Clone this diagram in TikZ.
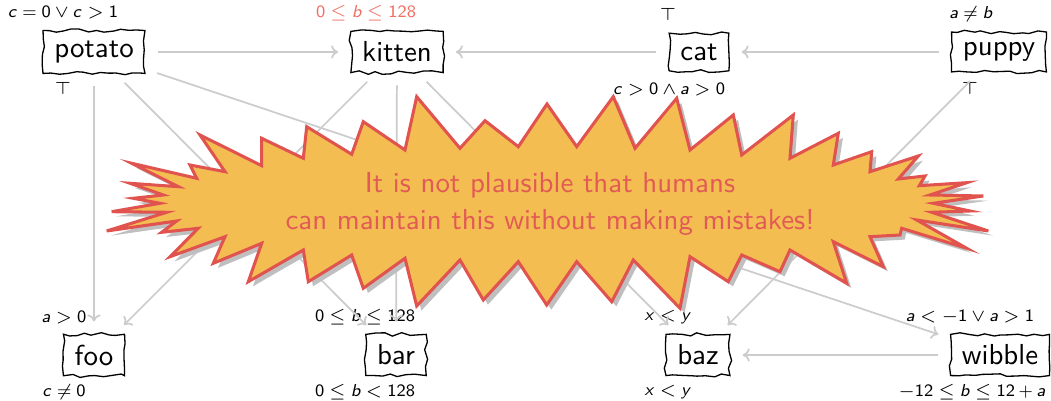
\documentclass[tikz,border=0pt]{standalone}
\usetikzlibrary{decorations.pathmorphing,arrows.meta}
\DeclareSymbolFont{sfit}{OT1}{cmss}{m}{sl}
\DeclareSymbolFont{sfup}{OT1}{cmss}{m}{n}
\DeclareMathSymbol{a}{\mathalpha}{sfit}{`a}
\DeclareMathSymbol{b}{\mathalpha}{sfit}{`b}
\DeclareMathSymbol{c}{\mathalpha}{sfit}{`c}
\DeclareMathSymbol{x}{\mathalpha}{sfit}{`x}
\DeclareMathSymbol{y}{\mathalpha}{sfit}{`y}
\DeclareMathSymbol{0}{\mathalpha}{sfup}{`0}
\DeclareMathSymbol{1}{\mathalpha}{sfup}{`1}
\DeclareMathSymbol{2}{\mathalpha}{sfup}{`2}
\DeclareMathSymbol{8}{\mathalpha}{sfup}{`8}
\DeclareMathSymbol{=}{\mathrel}{sfup}{`=}
\DeclareMathSymbol{+}{\mathbin}{sfup}{`+}
\definecolor{edgegray}{HTML}{CCCCCC}
\definecolor{burstfill}{HTML}{F3BD52}
\definecolor{burstline}{HTML}{E0534F}
\definecolor{bursttext}{HTML}{E25A55}
\definecolor{redlabel}{HTML}{F07066}
\begin{document}
\begin{tikzpicture}[x=0.346pt,y=-0.346pt,
  box/.style={draw=black, line width=0.45pt, fill=white,
    font=\fontsize{10}{12}\selectfont\sffamily, inner xsep=3.9pt, inner ysep=3.6pt,
    decorate, decoration={random steps, segment length=2.8pt, amplitude=0.6pt}},
  lbl/.style={font=\fontsize{6.2}{7.5}\selectfont, inner sep=0pt,
    execute at begin node={\thickmuskip=4mu\relax\medmuskip=3mu\relax}},
  edge/.style={draw=edgegray, line width=0.6pt, shorten <=4.2pt, shorten >=4.2pt,
    -{To[length=2.4pt,width=4.6pt]}}]
\pgfmathsetseed{7}
\useasboundingbox (0,0) rectangle (1051,401);
\fill[white] (0,0) rectangle (1051,401);
% nodes
\node[box] (potato) at (94,52) {potato};
\node[box] (kitten) at (397,52) {kitten};
\node[box] (cat) at (699,52) {cat};
\node[box] (puppy) at (999,52) {puppy};
\node[box] (foo) at (94,355) {foo};
\node[box] (bar) at (396,355) {bar};
\node[box] (baz) at (698,355) {baz};
\node[box] (wibble) at (1000,355) {wibble};
% labels
\node[lbl] (potatoA) at ([shift={(-31,-39)}]potato.center) {$c = 0 \vee c > 1$};
\node[lbl] (potatoB) at ([shift={(-31,36)}]potato.center) {$\top$};
\node[lbl, text=redlabel] (kittenA) at ([shift={(-31,-39)}]kitten.center) {$0 \leq b \leq 128$};
\node[lbl] (catA) at ([shift={(-31,-38)}]cat.center) {$\top$};
\node[lbl] (catB) at ([shift={(-30,38)}]cat.center) {$c > 0 \wedge a > 0$};
\node[lbl] (puppyA) at ([shift={(-28,-38)}]puppy.center) {$a \neq b$};
\node[lbl] (puppyB) at ([shift={(-29,36)}]puppy.center) {$\top$};
\node[lbl] (fooA) at ([shift={(-30,-37)}]foo.center) {$a > 0$};
\node[lbl] (fooB) at ([shift={(-30,37)}]foo.center) {$c \neq 0$};
\node[lbl] (barA) at ([shift={(-31,-38)}]bar.center) {$0 \leq b \leq 128$};
\node[lbl] (barB) at ([shift={(-31,37)}]bar.center) {$0 \leq b < 128$};
\node[lbl] (bazA) at ([shift={(-30,-38)}]baz.center) {$x < y$};
\node[lbl] (bazB) at ([shift={(-30,37)}]baz.center) {$x < y$};
\node[lbl] (wibbleA) at ([shift={(-30,-38)}]wibble.center) {$a < -1 \vee a > 1$};
\node[lbl] (wibbleB) at ([shift={(-28,37)}]wibble.center) {$-12 \leq b \leq 12 + a$};
% edges
\draw[edge] (potato) -- (kitten);
\draw[edge] (potato) -- (foo);
\draw[edge] (potato) -- (bar);
\draw[edge] (potato) -- (wibble);
\draw[edge] (kitten) -- (foo);
\draw[edge] (kitten) -- (bar);
\draw[edge] (kitten) -- (baz);
\draw[edge] (cat) -- (kitten);
\draw[edge] (puppy) -- (cat);
\draw[edge] (puppy) -- (baz);
\draw[edge] (wibble) -- (baz);
% starburst
\filldraw[fill=burstfill, draw=burstline, line width=1.05pt, line join=miter,
  preaction={fill=black!25, transform canvas={xshift=1.6pt, yshift=-1.6pt}}]
 (131.7,163.3) -- (196.7,178.3) -- (190,165) -- (225,171.7) -- (200,135) --
 (261.7,165.7) -- (261.7,138.3) -- (303.3,158.3) -- (306.7,126.7) --
 (351.7,154.3) -- (363.3,121.7) -- (405,150) -- (416.7,96.7) -- (460,148.3) --
 (485,120.7) -- (518.3,146.7) -- (547,104) -- (576.7,146.7) -- (613.3,96.7) --
 (635,148.3) -- (676.7,98.3) -- (690,150) -- (733.3,115) -- (741.7,155) --
 (793.3,115) -- (790,158.3) -- (838.3,133.3) -- (833.3,165) -- (871.7,151.7) --
 (870,171.7) -- (918.3,156) -- (898.3,179) -- (925,176) -- (919.3,185.7) --
 (966.7,182.7) -- (930,195) -- (983.3,196) -- (933.3,203.3) -- (970,211) --
 (931.7,212.3) -- (988.3,231) -- (916.7,220) -- (966.7,248.3) -- (901.7,228.3) --
 (900,235) -- (870,236.7) -- (883.3,266.7) -- (833.3,241.7) -- (846.7,283.3) --
 (790,250) -- (780,271.7) -- (741.7,255) -- (728.3,281.7) -- (690,256.7) --
 (680,308.3) -- (633.3,260) -- (611.7,301.7) -- (576.7,261.7) -- (546.7,305) --
 (518.3,261.7) -- (483.3,300) -- (460,260) -- (416.7,306) -- (405,258.3) --
 (363.3,288.3) -- (351.7,255) -- (308.3,281.7) -- (303.3,250) -- (248.3,281.7) --
 (261.7,243.3) -- (213.3,263.3) -- (225,236.7) -- (170,256.7) -- (198.3,228.3) --
 (161.7,232.3) -- (176.7,221) -- (106.7,231) -- (166.7,212.3) -- (111.7,211.7) --
 (160,203.3) -- (133.3,198.3) -- (163.3,195) -- (130,183.3) -- (178.3,186.7) -- cycle;
\node[font=\fontsize{10}{12.8}\selectfont\sffamily, text=bursttext, align=center]
  (msg) at (550,204) {It is not plausible that humans\\can maintain this without making mistakes!};
\end{tikzpicture}
\end{document}
